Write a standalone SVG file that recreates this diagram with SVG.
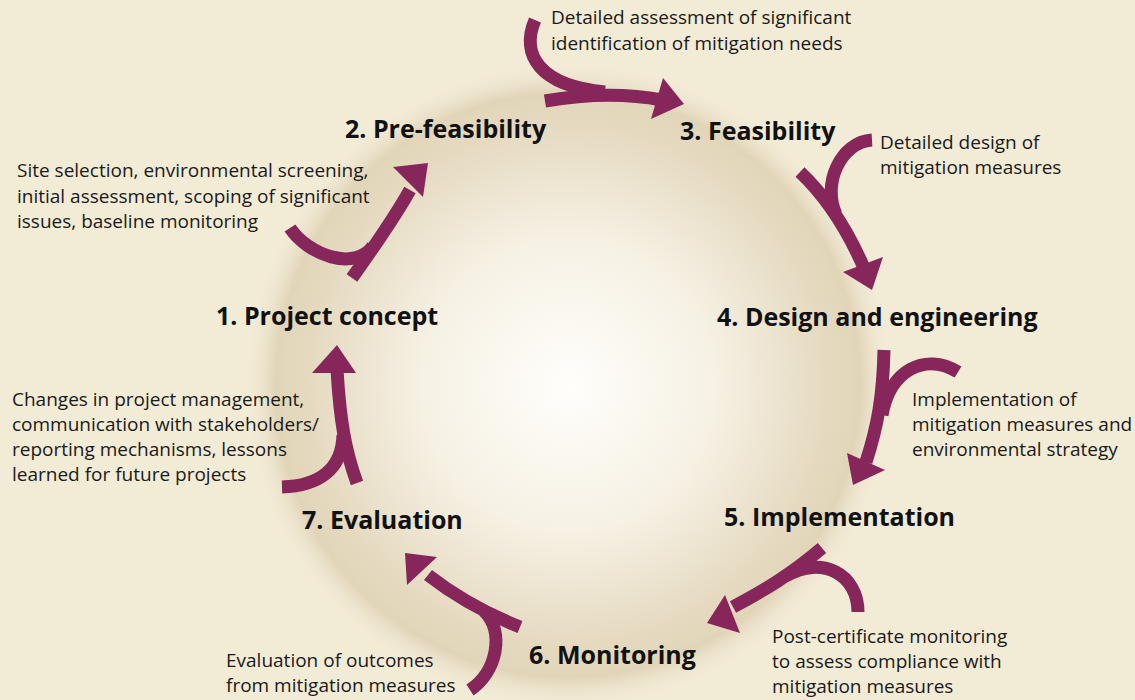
<svg xmlns="http://www.w3.org/2000/svg" width="1135" height="700" viewBox="0 0 1135 700">
<defs>
<radialGradient id="glow" cx="0.5" cy="0.5" r="0.5">
<stop offset="0" stop-color="#fffefb"/>
<stop offset="0.45" stop-color="#f6f1e4"/>
<stop offset="0.8" stop-color="#e5dac0"/>
<stop offset="0.9" stop-color="#e1d5b9"/>
<stop offset="1" stop-color="#f2ebd6" stop-opacity="0"/>
</radialGradient>
<style>
.arrow{fill:none;stroke:#87265a;stroke-width:13}
.head{fill:#87265a}
.lbl{font-family:"Open Sans","Liberation Sans",sans-serif;font-weight:bold;font-size:25px;fill:#111}
.note{font-family:"Open Sans","Liberation Sans",sans-serif;font-size:19px;fill:#1a1a1a}
</style>
</defs>
<rect width="1135" height="700" fill="#f2ebd6"/>
<circle cx="568" cy="385" r="325" fill="url(#glow)"/>

<g id="connectors">
<path class="arrow" d="M545,101 C580,95 620,92 662,100"/>
<path class="arrow" d="M535,20 C520,55 540,86 605,92"/>
<polygon class="head" points="684,104 663,78 651,119"/>

<path class="arrow" d="M800,172 Q838,208 864,268"/>
<path class="arrow" d="M872,140 C840,142 822,185 836,214"/>
<polygon class="head" points="872,290 843,272 883,257"/>

<path class="arrow" d="M884,350 C883,395 878,425 866,462"/>
<path class="arrow" d="M958,372 C925,352 890,370 882,415"/>
<polygon class="head" points="853,485 847,453 885,470"/>

<path class="arrow" d="M822,548 C790,575 765,590 733,607"/>
<path class="arrow" d="M858,612 C858,574 822,555 786,576"/>
<polygon class="head" points="707,623 725,595 740,633"/>

<path class="arrow" d="M520,627 C490,615 460,600 428,575"/>
<path class="arrow" d="M470,690 C497,672 505,632 484,611"/>
<polygon class="head" points="405,553 437,557 407,585"/>

<path class="arrow" d="M357,483 C345,450 340,420 337,370"/>
<path class="arrow" d="M282,487 C318,486 342,470 343,435"/>
<polygon class="head" points="337,345 312,373 356,373"/>

<path class="arrow" d="M352,278 C375,245 392,222 410,190"/>
<path class="arrow" d="M290,228 C308,255 355,272 373,246"/>
<polygon class="head" points="428,163 393,167 423,197"/>
</g>

<g id="n1"><text class="lbl" x="216" y="325">1. Project concept</text></g>
<g id="n2"><text class="lbl" x="345" y="138">2. Pre-feasibility</text></g>
<g id="n3"><text class="lbl" x="680" y="140">3. Feasibility</text></g>
<g id="n4"><text class="lbl" x="717" y="326">4. Design and engineering</text></g>
<g id="n5"><text class="lbl" x="724" y="526">5. Implementation</text></g>
<g id="n6"><text class="lbl" x="529" y="664">6. Monitoring</text></g>
<g id="n7"><text class="lbl" x="302" y="529">7. Evaluation</text></g>

<g id="note12"><text class="note" x="17" y="177">Site selection, environmental screening,</text><text class="note" x="17" y="203">initial assessment, scoping of significant</text><text class="note" x="17" y="228">issues, baseline monitoring</text></g>
<g id="note23"><text class="note" x="551" y="24">Detailed assessment of significant</text><text class="note" x="551" y="50">identification of mitigation needs</text></g>
<g id="note34"><text class="note" x="880" y="149">Detailed design of</text><text class="note" x="880" y="174">mitigation measures</text></g>
<g id="note45"><text class="note" x="912" y="406">Implementation of</text><text class="note" x="912" y="431">mitigation measures and</text><text class="note" x="912" y="456">environmental strategy</text></g>
<g id="note56"><text class="note" x="772" y="643">Post-certificate monitoring</text><text class="note" x="772" y="668">to assess compliance with</text><text class="note" x="772" y="693">mitigation measures</text></g>
<g id="note67"><text class="note" x="226" y="667">Evaluation of outcomes</text><text class="note" x="226" y="692">from mitigation measures</text></g>
<g id="note71"><text class="note" x="12" y="406">Changes in project management,</text><text class="note" x="12" y="431">communication with stakeholders/</text><text class="note" x="12" y="456">reporting mechanisms, lessons</text><text class="note" x="12" y="481">learned for future projects</text></g>
</svg>
